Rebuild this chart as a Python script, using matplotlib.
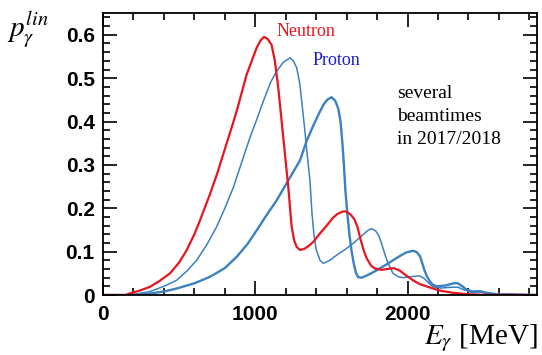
import matplotlib.pyplot as plt
import numpy as np
from matplotlib.ticker import MultipleLocator

plt.rcParams['mathtext.fontset'] = 'stix'

# neutron beamtime
neutron_E = [0, 150, 177, 240, 309, 370, 440, 500, 549, 600, 637, 703, 750, 790, 835, 878, 943, 1009, 1035, 1057,
             1080, 1107, 1129, 1151, 1184, 1217, 1239, 1256, 1272, 1293, 1320, 1350, 1380, 1420, 1469, 1510, 1540,
             1570, 1589, 1610, 1630, 1650, 1670, 1690, 1710, 1731, 1760, 1786, 1830, 1884, 1910, 1950, 1994, 2040,
             2081, 2150, 2213, 2300, 2388, 2500, 2850]
neutron_p = [0, 0, 0.004, 0.01, 0.019, 0.032, 0.05, 0.075, 0.103, 0.14, 0.172, 0.233, 0.28, 0.325, 0.375, 0.424,
             0.508, 0.57, 0.587, 0.595, 0.591, 0.577, 0.539, 0.478, 0.363, 0.248, 0.157, 0.125, 0.111, 0.104, 0.106,
             0.113, 0.122, 0.14, 0.16, 0.178, 0.187, 0.192, 0.193, 0.19, 0.184, 0.175, 0.158, 0.13, 0.105, 0.085,
             0.068, 0.061, 0.058, 0.061, 0.062, 0.056, 0.044, 0.033, 0.025, 0.017, 0.01, 0.005, 0.002, 0.0005, 0]

# proton beamtime 1 (thin line)
proton1_E = [0, 150, 230, 309, 400, 484, 550, 615, 680, 746, 800, 856, 910, 965, 1010, 1053, 1100, 1140, 1185, 1228,
             1250, 1272, 1293, 1310, 1326, 1342, 1359, 1372, 1385, 1400, 1425, 1447, 1490, 1534, 1590, 1643, 1710,
             1740, 1764, 1790, 1810, 1830, 1850, 1870, 1904, 1940, 1970, 2040, 2081, 2110, 2140, 2167, 2220, 2290,
             2330, 2370, 2420, 2475, 2520, 2600, 2850]
proton1_p = [0, 0, 0.003, 0.008, 0.02, 0.034, 0.055, 0.08, 0.115, 0.157, 0.2, 0.248, 0.305, 0.363, 0.405, 0.447,
             0.49, 0.516, 0.537, 0.547, 0.54, 0.524, 0.486, 0.43, 0.378, 0.32, 0.264, 0.19, 0.14, 0.105, 0.08, 0.073,
             0.08, 0.092, 0.105, 0.119, 0.14, 0.149, 0.153, 0.148, 0.138, 0.118, 0.095, 0.075, 0.05, 0.042, 0.04,
             0.043, 0.044, 0.038, 0.027, 0.019, 0.016, 0.018, 0.018, 0.012, 0.006, 0.007, 0.004, 0.002, 0]

# proton beamtime 2 (thick line)
proton2_E = [0, 150, 300, 400, 484, 600, 703, 800, 878, 950, 1009, 1070, 1140, 1228, 1293, 1337, 1380, 1420, 1450,
             1475, 1501, 1525, 1545, 1560, 1572, 1582, 1592, 1604, 1618, 1633, 1648, 1662, 1676, 1700, 1750, 1797,
             1850, 1904, 1950, 1990, 2036, 2060, 2081, 2095, 2110, 2125, 2145, 2165, 2191, 2250, 2300, 2330, 2360,
             2388, 2430, 2475, 2520, 2585, 2850]
proton2_p = [0, 0, 0.003, 0.008, 0.015, 0.027, 0.042, 0.062, 0.088, 0.118, 0.149, 0.182, 0.218, 0.271, 0.31, 0.355,
             0.39, 0.42, 0.44, 0.451, 0.456, 0.448, 0.43, 0.4, 0.35, 0.3, 0.24, 0.19, 0.14, 0.1, 0.07, 0.05, 0.041,
             0.04, 0.048, 0.057, 0.068, 0.08, 0.09, 0.098, 0.102, 0.099, 0.09, 0.075, 0.058, 0.045, 0.032, 0.024,
             0.02, 0.022, 0.027, 0.027, 0.02, 0.012, 0.008, 0.009, 0.005, 0.002, 0]

red = "#e8141e"
blue = "#3b80c0"

fig = plt.figure(figsize=(5.42, 3.55), dpi=100)
ax = fig.add_axes([0.19, 0.169, 0.8008, 0.794])

ax.plot(proton2_E, proton2_p, color=blue, lw=1.7)
ax.plot(proton1_E, proton1_p, color=blue, lw=1.1)
ax.plot(neutron_E, neutron_p, color=red, lw=1.6)

ax.set_xlim(0, 2850)
ax.set_ylim(0, 0.65)
ax.xaxis.set_major_locator(MultipleLocator(1000))
ax.xaxis.set_minor_locator(MultipleLocator(200))
ax.yaxis.set_major_locator(MultipleLocator(0.1))
ax.yaxis.set_minor_locator(MultipleLocator(0.02))
ax.set_yticks([0, 0.1, 0.2, 0.3, 0.4, 0.5, 0.6])
ax.set_yticklabels(["0", "0.1", "0.2", "0.3", "0.4", "0.5", "0.6"])
ax.tick_params(which='both', direction='in', top=True, right=True, width=1.2)
ax.tick_params(which='major', length=10)
ax.tick_params(which='minor', length=5)
ax.tick_params(axis='x', which='major', pad=7)
ax.tick_params(axis='y', which='major', pad=6)
for lab in ax.get_xticklabels() + ax.get_yticklabels():
    lab.set_fontfamily('Liberation Sans')
    lab.set_fontweight('bold')
    lab.set_fontsize(15)
for s in ax.spines.values():
    s.set_linewidth(1.3)

ax.text(1142, 0.597, "Neutron", color=red, fontsize=13, family='Liberation Serif')
ax.text(1379, 0.53, "Proton", color="#1a1ad8", fontsize=13, family='Liberation Serif')
ax.text(1930, 0.349, "several\nbeamtimes\nin 2017/2018", color="black", fontsize=14,
        family='Liberation Serif', linespacing=1.45)

fig.text(0.012, 0.975, r"$p_{\gamma}^{lin}$", fontsize=21, va='top', ha='left')
fig.text(0.992, 0.004, r"$E_{\gamma}$ [MeV]", fontsize=21, va='bottom', ha='right', family='Liberation Serif')

fig.savefig("out.png", dpi=100)
